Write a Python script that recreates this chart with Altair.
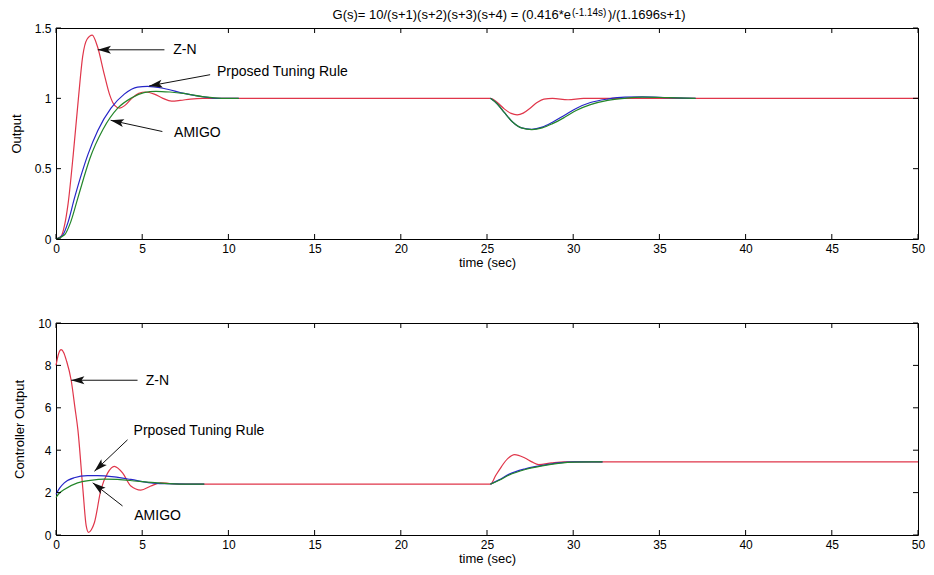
import math
import altair as alt
import pandas as pd

# ---------------- data ----------------
x_ticks = [0, 5, 10, 15, 20, 25, 30, 35, 40, 45, 50]
y_ticks_top = [0, 0.5, 1, 1.5]
y_ticks_bottom = [0, 2, 4, 6, 8, 10]

title_main = "G(s)= 10/(s+1)(s+2)(s+3)(s+4) = (0.416*e"
title_sup = "(-1.14s)"
title_tail = ")/(1.1696s+1)"
x_title = "time (sec)"
y_title_top = "Output"
y_title_bottom = "Controller Output"

# --- top panel: Output ---
zn_top_t = [0, 0.3, 0.5, 0.7, 1.0, 1.3, 1.55, 1.8, 2.1, 2.4, 2.8, 3.1, 3.4, 3.7, 4.0, 4.4, 4.8, 5.2, 5.7, 6.2,
            6.7, 7.2, 7.8, 8.5, 25.2, 25.6, 26.0, 26.4, 26.75, 27.1, 27.5, 27.9, 28.3, 28.8, 29.7, 30.6, 50]
zn_top_v = [0, 0.02, 0.1, 0.25, 0.6, 1.0, 1.3, 1.42, 1.45, 1.37, 1.17, 1.03, 0.95, 0.93, 0.95, 1.0, 1.035, 1.045, 1.03, 1.0,
            0.98, 0.985, 0.995, 1.0, 1.0, 0.97, 0.925, 0.893, 0.883, 0.895, 0.93, 0.97, 0.995, 1.0, 0.99, 1.0, 1.0]

pr_top_t_a = [0, 0.4, 0.7, 1.07, 1.5, 1.85, 2.42, 3.19, 3.96, 4.73, 5.3, 6.27, 7.42, 8.58, 9.5, 10.6]
pr_top_v_a = [0, 0.03, 0.12, 0.29, 0.47, 0.6, 0.77, 0.93, 1.03, 1.08, 1.085, 1.07, 1.035, 1.01, 1.0, 1.0]
pr_top_t_b = [25.2, 25.6, 26.0, 26.5, 27.0, 27.6, 28.2, 28.8, 29.5, 30.2, 31.0, 32.0, 33.0, 34.0, 35.5, 37.1]
pr_top_v_b = [1.0, 0.96, 0.9, 0.83, 0.79, 0.78, 0.795, 0.83, 0.88, 0.93, 0.97, 0.995, 1.008, 1.01, 1.005, 1.0]

am_top_t_a = [0, 0.5, 0.85, 1.24, 1.6, 1.96, 2.73, 3.58, 4.34, 5.1, 5.8, 6.6, 7.4, 8.6, 9.6, 10.6]
am_top_v_a = [0, 0.03, 0.12, 0.28, 0.43, 0.57, 0.78, 0.93, 1.0, 1.04, 1.05, 1.045, 1.035, 1.01, 1.0, 1.0]
am_top_t_b = [25.2, 25.6, 26.0, 26.5, 27.0, 27.6, 28.2, 28.8, 29.5, 30.2, 31.0, 32.0, 33.0, 34.0, 35.5, 37.1]
am_top_v_b = [1.0, 0.96, 0.9, 0.83, 0.79, 0.778, 0.79, 0.82, 0.865, 0.915, 0.955, 0.985, 1.0, 1.008, 1.005, 1.0]

# --- bottom panel: Controller Output ---
zn_bot_t = [0, 0.15, 0.3, 0.45, 0.6, 0.88, 1.1, 1.27, 1.56, 1.75, 1.89, 2.05, 2.23, 2.61, 3.0, 3.38, 3.86, 4.34,
            4.92, 5.5, 6.07, 6.6, 7.5, 25.2, 25.5, 25.85, 26.2, 26.6, 27.2, 27.6, 28.0, 28.75, 29.5, 50]
zn_bot_v = [8.0, 8.55, 8.74, 8.6, 8.24, 7.3, 6.0, 4.96, 2.15, 0.44, 0.12, 0.25, 0.59, 2.15, 2.93, 3.24, 2.93, 2.31,
            2.12, 2.31, 2.46, 2.43, 2.4, 2.4, 2.8, 3.24, 3.6, 3.79, 3.63, 3.45, 3.32, 3.4, 3.45, 3.45]

pr_bot_t_a = [0, 0.2, 0.48, 1.05, 1.83, 2.4, 3.38, 4.34, 5.5, 6.3, 7.5, 8.6]
pr_bot_v_a = [1.92, 2.2, 2.46, 2.7, 2.8, 2.8, 2.74, 2.62, 2.46, 2.42, 2.4, 2.4]
pr_bot_t_b = [25.2, 25.7, 26.26, 27.22, 28.2, 29.14, 30.1, 31.7]
pr_bot_v_b = [2.4, 2.6, 2.86, 3.12, 3.28, 3.4, 3.45, 3.45]

am_bot_t_a = [0, 0.2, 0.48, 1.25, 2.0, 2.8, 3.57, 4.7, 5.9, 7.4, 8.6]
am_bot_v_a = [1.77, 1.98, 2.15, 2.46, 2.58, 2.64, 2.62, 2.54, 2.46, 2.4, 2.4]
am_bot_t_b = [25.2, 25.7, 26.26, 27.22, 28.2, 29.14, 30.1, 31.7]
am_bot_v_b = [2.4, 2.58, 2.82, 3.09, 3.26, 3.38, 3.44, 3.45]

# --- annotations ---
ann_labels = ["Z-N", "Prposed Tuning Rule", "AMIGO"]
top_label_t = [6.8, 9.34, 6.85]
top_label_v = [1.345, 1.19, 0.757]
top_arrow_t0 = [6.29, 8.94, 6.17]
top_arrow_v0 = [1.345, 1.168, 0.764]
top_arrow_t1 = [2.42, 5.4, 3.17]
top_arrow_v1 = [1.345, 1.088, 0.844]

bot_label_t = [5.21, 4.5, 4.54]
bot_label_v = [7.27, 4.92, 0.90]
bot_arrow_t0 = [4.73, 4.15, 3.86]
bot_arrow_v0 = [7.3, 4.49, 1.37]
bot_arrow_t1 = [0.88, 2.23, 2.13]
bot_arrow_v1 = [7.3, 3.01, 2.46]

# ---------------- style ----------------
FONT = "Liberation Sans"
RED = "#e0364a"
BLUE = "#2626c8"
GREEN = "#23862a"
W = 862
H_TOP = 211
H_BOT = 212
XMAX = 50
ARROW_SHAPE = "M0,0L-0.3,1L0,0.78L0.3,1Z"


def panel(lines, ymax, yticks, ytitle, H, lab_t, lab_v, a_t0, a_v0, a_t1, a_v1, title=False):
    xs = alt.Scale(domain=[0, XMAX], nice=False, zero=False)
    ys = alt.Scale(domain=[0, ymax], nice=False, zero=False)
    x_axis = alt.Axis(values=x_ticks, title=x_title, ticks=False, domain=False, grid=False,
                      labelPadding=4, titlePadding=2, labelFontSize=12, titleFontSize=13,
                      titleFontWeight="normal", labelFlush=False, labelFont=FONT, titleFont=FONT,
                      labelColor="black", titleColor="black", labelExpr="'' + datum.value")
    y_axis = alt.Axis(values=yticks, title=ytitle, ticks=False, domain=False, grid=False,
                      labelPadding=5, titlePadding=11, labelFontSize=12, titleFontSize=13,
                      titleFontWeight="normal", labelFlush=False, labelFont=FONT, titleFont=FONT,
                      labelColor="black", titleColor="black", labelExpr="'' + datum.value")

    def X(f):
        return alt.X(f, scale=xs, axis=x_axis)

    def Y(f):
        return alt.Y(f, scale=ys, axis=y_axis)

    layers = []
    for t, v, c in lines:
        df = pd.DataFrame({"t": t, "v": v})
        layers.append(
            alt.Chart(df).mark_line(color=c, strokeWidth=1.2, interpolate="monotone").encode(
                x=X("t:Q"), y=Y("v:Q"))
        )

    # inward ticks (MATLAB box style)
    tdf = pd.DataFrame({"t": x_ticks})
    vdf = pd.DataFrame({"v": yticks})
    tick = dict(color="black", strokeWidth=1)
    layers.append(alt.Chart(tdf).mark_rule(**tick).encode(
        x=X("t:Q"), y=alt.value(H), y2=alt.value(H - 5)))
    layers.append(alt.Chart(tdf).mark_rule(**tick).encode(
        x=X("t:Q"), y=alt.value(0), y2=alt.value(5)))
    layers.append(alt.Chart(vdf).mark_rule(**tick).encode(
        y=Y("v:Q"), x=alt.value(0), x2=alt.value(5)))
    layers.append(alt.Chart(vdf).mark_rule(**tick).encode(
        y=Y("v:Q"), x=alt.value(W - 5), x2=alt.value(W)))

    # annotation arrows
    adf = pd.DataFrame({"t": a_t0, "v": a_v0, "t1": a_t1, "v1": a_v1})
    angles = []
    for t0, v0, t1, v1 in zip(a_t0, a_v0, a_t1, a_v1):
        dx = (t1 - t0) * W / XMAX
        dy = -(v1 - v0) * H / ymax
        angles.append(math.degrees(math.atan2(dx, -dy)) % 360)
    layers.append(alt.Chart(adf).mark_rule(color="#111111", strokeWidth=1).encode(
        x=X("t:Q"), y=Y("v:Q"), x2="t1:Q", y2="v1:Q"))
    hdf = pd.DataFrame({"t": a_t1, "v": a_v1, "ang": angles})
    layers.append(alt.Chart(hdf).mark_point(shape=ARROW_SHAPE, filled=True, color="#111111",
                                            opacity=1, size=700, strokeWidth=0).encode(
        x=X("t:Q"), y=Y("v:Q"), angle=alt.Angle("ang:Q", scale=None)))
    ldf = pd.DataFrame({"t": lab_t, "v": lab_v, "s": ann_labels})
    layers.append(alt.Chart(ldf).mark_text(align="left", baseline="middle", fontSize=14,
                                           font=FONT, color="black").encode(
        x=X("t:Q"), y=Y("v:Q"), text="s:N"))

    if title:
        sx = 515
        layers.append(alt.Chart(pd.DataFrame({"s": [title_main]})).mark_text(
            align="right", baseline="middle", fontSize=13, font=FONT, color="black").encode(
            x=alt.value(sx), y=alt.value(-13), text="s:N"))
        layers.append(alt.Chart(pd.DataFrame({"s": [title_sup]})).mark_text(
            align="left", baseline="middle", fontSize=10, font=FONT, color="black").encode(
            x=alt.value(sx + 1), y=alt.value(-15.5), text="s:N"))
        layers.append(alt.Chart(pd.DataFrame({"s": [title_tail]})).mark_text(
            align="left", baseline="middle", fontSize=13, font=FONT, color="black").encode(
            x=alt.value(sx + 37), y=alt.value(-13), text="s:N"))

    return alt.layer(*layers).properties(width=W, height=H)


top = panel(
    [(zn_top_t, zn_top_v, RED), (pr_top_t_a, pr_top_v_a, BLUE), (pr_top_t_b, pr_top_v_b, BLUE),
     (am_top_t_a, am_top_v_a, GREEN), (am_top_t_b, am_top_v_b, GREEN)],
    1.5, y_ticks_top, y_title_top, H_TOP,
    top_label_t, top_label_v, top_arrow_t0, top_arrow_v0, top_arrow_t1, top_arrow_v1, title=True)

bottom = panel(
    [(zn_bot_t, zn_bot_v, RED), (pr_bot_t_a, pr_bot_v_a, BLUE), (pr_bot_t_b, pr_bot_v_b, BLUE),
     (am_bot_t_a, am_bot_v_a, GREEN), (am_bot_t_b, am_bot_v_b, GREEN)],
    10, y_ticks_bottom, y_title_bottom, H_BOT,
    bot_label_t, bot_label_v, bot_arrow_t0, bot_arrow_v0, bot_arrow_t1, bot_arrow_v1)

chart = alt.vconcat(top, bottom, spacing=46).properties(
    padding={"left": 1, "top": -1, "right": 0, "bottom": 0}
).configure_view(stroke="black", strokeWidth=1)

chart.save("out.html", embed_options={"renderer": "svg", "actions": False})
